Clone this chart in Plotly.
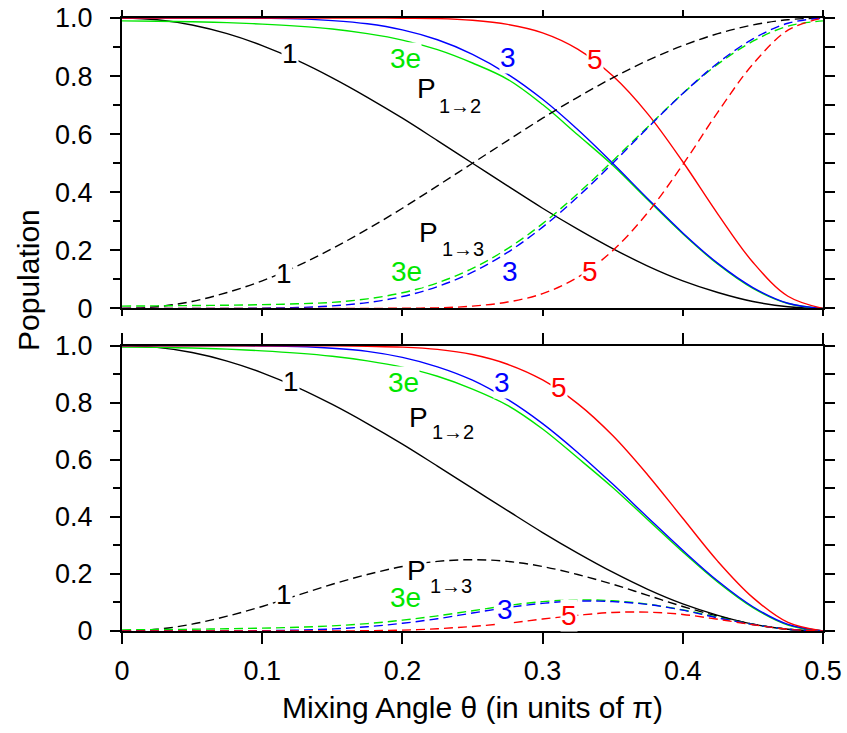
import plotly.graph_objects as go

# Mixing angle theta in units of pi
theta = [0.0, 0.025, 0.05, 0.075, 0.1, 0.125, 0.15, 0.175, 0.2, 0.225, 0.25,
         0.275, 0.3, 0.325, 0.35, 0.375, 0.4, 0.425, 0.45, 0.475, 0.5]

# Upper panel: P(1->2) solid, P(1->3) dashed
top_p12_1 = [1.0, 0.994, 0.976, 0.946, 0.905, 0.854, 0.794, 0.727, 0.655, 0.578, 0.500,
             0.422, 0.345, 0.273, 0.206, 0.146, 0.095, 0.055, 0.024, 0.006, 0.0]
top_p13_1 = [0.0, 0.006, 0.024, 0.055, 0.095, 0.146, 0.206, 0.273, 0.345, 0.422, 0.500,
             0.578, 0.655, 0.727, 0.794, 0.854, 0.905, 0.946, 0.976, 0.994, 1.0]
top_p12_3e = [0.990, 0.989, 0.987, 0.984, 0.979, 0.972, 0.962, 0.946, 0.924, 0.891, 0.845,
              0.789, 0.702, 0.598, 0.493, 0.374, 0.257, 0.152, 0.069, 0.017, 0.0]
top_p13_3e = [0.008, 0.009, 0.010, 0.011, 0.013, 0.016, 0.021, 0.033, 0.054, 0.088, 0.138,
              0.206, 0.292, 0.395, 0.508, 0.625, 0.740, 0.841, 0.920, 0.972, 0.990]
top_p12_3 = [1.0, 1.0, 1.0, 1.0, 0.999, 0.997, 0.991, 0.980, 0.959, 0.925, 0.875,
             0.807, 0.720, 0.616, 0.500, 0.378, 0.260, 0.155, 0.072, 0.018, 0.0]
top_p13_3 = [0.0, 0.0, 0.0, 0.0, 0.001, 0.003, 0.009, 0.020, 0.041, 0.075, 0.125,
             0.193, 0.280, 0.384, 0.500, 0.622, 0.740, 0.845, 0.928, 0.982, 1.0]
top_p12_5 = [1.0, 1.0, 1.0, 1.0, 1.0, 1.0, 1.0, 1.0, 0.999, 0.998, 0.992,
             0.978, 0.949, 0.893, 0.801, 0.670, 0.505, 0.325, 0.159, 0.042, 0.0]
top_p13_5 = [0.0, 0.0, 0.0, 0.0, 0.0, 0.0, 0.0, 0.0, 0.001, 0.002, 0.008,
             0.022, 0.051, 0.107, 0.199, 0.330, 0.495, 0.676, 0.841, 0.958, 1.0]

# Lower panel: P(1->2) solid, P(1->3) dashed
bot_p12_1 = [1.0, 0.994, 0.976, 0.946, 0.905, 0.854, 0.794, 0.727, 0.655, 0.578, 0.500,
             0.422, 0.345, 0.273, 0.206, 0.146, 0.095, 0.055, 0.024, 0.006, 0.0]
bot_p13_1 = [0.0, 0.006, 0.024, 0.052, 0.086, 0.125, 0.164, 0.198, 0.226, 0.244, 0.250,
             0.244, 0.226, 0.198, 0.164, 0.125, 0.086, 0.052, 0.024, 0.006, 0.0]
bot_p12_3e = [0.995, 0.994, 0.992, 0.988, 0.982, 0.974, 0.963, 0.947, 0.925, 0.893, 0.848,
              0.791, 0.708, 0.607, 0.503, 0.390, 0.277, 0.171, 0.082, 0.021, 0.0]
bot_p13_3e = [0.004, 0.005, 0.006, 0.008, 0.010, 0.013, 0.018, 0.026, 0.038, 0.053, 0.071,
              0.089, 0.103, 0.109, 0.106, 0.094, 0.074, 0.048, 0.023, 0.006, 0.0]
bot_p12_3 = [1.0, 1.0, 1.0, 1.0, 0.999, 0.997, 0.991, 0.980, 0.959, 0.926, 0.879,
             0.812, 0.727, 0.626, 0.515, 0.398, 0.283, 0.175, 0.085, 0.023, 0.0]
bot_p13_3 = [0.0, 0.0, 0.0, 0.0, 0.001, 0.003, 0.007, 0.015, 0.027, 0.043, 0.063,
             0.082, 0.097, 0.105, 0.103, 0.093, 0.073, 0.046, 0.023, 0.006, 0.0]
bot_p12_5 = [1.0, 1.0, 1.0, 1.0, 1.0, 1.0, 1.0, 0.998, 0.995, 0.987, 0.969,
             0.935, 0.880, 0.797, 0.685, 0.547, 0.395, 0.244, 0.117, 0.030, 0.0]
bot_p13_5 = [0.0, 0.0, 0.0, 0.0, 0.0, 0.0, 0.0, 0.001, 0.003, 0.008, 0.016,
             0.027, 0.042, 0.055, 0.065, 0.066, 0.058, 0.041, 0.022, 0.006, 0.0]

x_ticks = [0, 0.1, 0.2, 0.3, 0.4, 0.5]
x_ticktext = ["0", "0.1", "0.2", "0.3", "0.4", "0.5"]
y_ticks = [0, 0.2, 0.4, 0.6, 0.8, 1.0]
y_ticktext = ["0", "0.2", "0.4", "0.6", "0.8", "1.0"]
y_fine = [0, 0.1, 0.2, 0.3, 0.4, 0.5, 0.6, 0.7, 0.8, 0.9, 1.0]

FONT = "Liberation Sans, Arial, sans-serif"
BLACK, GREEN, BLUE, RED = "#000000", "#00E600", "#0000FF", "#FF0000"
DASH = "9px,5px"

fig = go.Figure()

panels = [
    ("x", "y", "y3", [
        (top_p12_1, top_p13_1, BLACK),
        (top_p12_3e, top_p13_3e, GREEN),
        (top_p12_3, top_p13_3, BLUE),
        (top_p12_5, top_p13_5, RED),
    ]),
    ("x2", "y2", "y4", [
        (bot_p12_1, bot_p13_1, BLACK),
        (bot_p12_3e, bot_p13_3e, GREEN),
        (bot_p12_3, bot_p13_3, BLUE),
        (bot_p12_5, bot_p13_5, RED),
    ]),
]
for xa, ya, ya_right, curves in panels:
    for p12, p13, col in curves:
        fig.add_trace(go.Scatter(x=theta, y=p12, xaxis=xa, yaxis=ya, mode="lines",
                                 line=dict(color=col, width=1.4, shape="spline"),
                                 showlegend=False, hoverinfo="skip"))
        fig.add_trace(go.Scatter(x=theta, y=p13, xaxis=xa, yaxis=ya_right, mode="lines",
                                 line=dict(color=col, width=1.4, dash=DASH, shape="spline"),
                                 showlegend=False, hoverinfo="skip"))

AXLINE = dict(showline=True, linecolor="black", linewidth=2, showgrid=False,
              zeroline=False, tickcolor="black", tickwidth=1.5, automargin=False)

def x_axis(anchor, ticklen, labels):
    return dict(AXLINE, anchor=anchor, domain=[0, 1], range=[0, 0.5],
                tickvals=x_ticks, ticktext=x_ticktext, ticks="outside",
                ticklen=ticklen, mirror="ticks", showticklabels=labels,
                ticklabelstandoff=4,
                tickfont=dict(family=FONT, size=27, color="black"))

def y_left(anchor, domain):
    return dict(AXLINE, anchor=anchor, domain=domain, range=[0, 1],
                tickvals=y_ticks, ticktext=y_ticktext, ticks="outside", ticklen=10,
                minor=dict(dtick=0.1, ticks="outside", ticklen=7,
                           tickcolor="black", tickwidth=1.5),
                ticklabelstandoff=12,
                tickfont=dict(family=FONT, size=27, color="black"))

def y_right(anchor, base):
    return dict(AXLINE, anchor=anchor, overlaying=base, side="right", range=[0, 1],
                tickvals=y_fine, ticks="outside", ticklen=10, showticklabels=False)

fig.update_layout(
    width=847, height=733,
    margin=dict(l=122, r=24, t=18, b=102, autoexpand=False),
    paper_bgcolor="white", plot_bgcolor="white",
    xaxis=x_axis("y", 6, False),
    yaxis=y_left("x", [0.5262, 1.0]),
    yaxis3=y_right("x", "y"),
    xaxis2=x_axis("y2", 11, True),
    yaxis2=y_left("x2", [0.0, 0.4654]),
    yaxis4=y_right("x2", "y2"),
)

# Inline curve labels; a white box interrupts the curve underneath where needed
labels = [
    # text, x, y, colour, size, xref, yref, white box
    ("1", 0.1199, 0.8795, BLACK, 28, "x", "y", True),
    ("3e", 0.2022, 0.8605, GREEN, 28, "x", "y", True),
    ("3", 0.2751, 0.8623, BLUE, 28, "x", "y", True),
    ("5", 0.3376, 0.8588, RED, 28, "x", "y", True),
    ("P", 0.2173, 0.7590, BLACK, 28, "x", "y", False),
    ("1→2", 0.2412, 0.6970, BLACK, 20, "x", "y", False),
    ("P", 0.2186, 0.2631, BLACK, 28, "x", "y", False),
    ("1→3", 0.2429, 0.2063, BLACK, 20, "x", "y", False),
    ("1", 0.1152, 0.1219, BLACK, 28, "x", "y", True),
    ("3e", 0.2029, 0.1288, GREEN, 28, "x", "y", True),
    ("3", 0.2771, 0.1288, BLUE, 28, "x", "y", True),
    ("5", 0.3338, 0.1271, RED, 28, "x", "y", True),
    ("1", 0.1205, 0.8728, BLACK, 28, "x2", "y2", True),
    ("3e", 0.2008, 0.8710, GREEN, 28, "x2", "y2", True),
    ("3", 0.2707, 0.8693, BLUE, 28, "x2", "y2", True),
    ("5", 0.3114, 0.8552, RED, 28, "x2", "y2", True),
    ("P", 0.2115, 0.7483, BLACK, 28, "x2", "y2", False),
    ("1→2", 0.2358, 0.6958, BLACK, 20, "x2", "y2", False),
    ("P", 0.2101, 0.2138, BLACK, 28, "x2", "y2", True),
    ("1→3", 0.2347, 0.1577, BLACK, 20, "x2", "y2", False),
    ("1", 0.1152, 0.1262, BLACK, 28, "x2", "y2", True),
    ("3e", 0.2019, 0.1174, GREEN, 28, "x2", "y2", True),
    ("3", 0.2732, 0.0736, BLUE, 28, "x2", "y2", True),
    ("5", 0.3185, 0.0526, RED, 28, "x2", "y2", True),
]
for text, lx, ly, col, size, xr, yr, boxed in labels:
    fig.add_annotation(text=text, x=lx, y=ly, xref=xr, yref=yr, showarrow=False,
                       xanchor="center", yanchor="middle",
                       bgcolor="white" if boxed else "rgba(0,0,0,0)",
                       borderpad=0, font=dict(family=FONT, size=size, color=col))

# Axis titles
fig.add_annotation(text="Population", xref="paper", yref="paper", x=-0.1327, y=0.5726,
                   textangle=-90, showarrow=False, xanchor="center", yanchor="middle",
                   font=dict(family=FONT, size=30, color="black"))
fig.add_annotation(text="Mixing Angle θ (in units of π)", xref="paper", yref="paper",
                   x=0.5007, y=-0.1256, showarrow=False, xanchor="center", yanchor="middle",
                   font=dict(family=FONT, size=30, color="black"))

fig.write_html("out.html")
